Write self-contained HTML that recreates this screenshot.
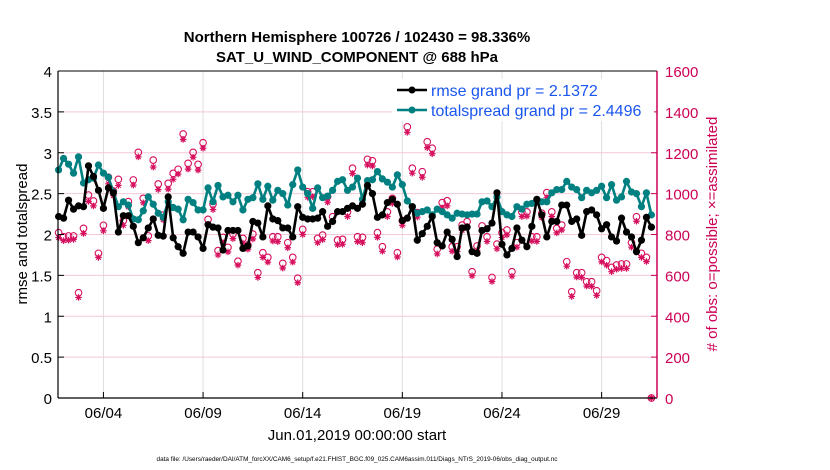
<!DOCTYPE html>
<html><head><meta charset="utf-8"><style>
html,body{margin:0;padding:0;background:#fff;}
svg{display:block;font-family:"Liberation Sans",Arial,sans-serif;}
</style></head><body>
<svg id="chart" width="830" height="470" viewBox="0 0 830 470" xmlns="http://www.w3.org/2000/svg">
<rect x="0" y="0" width="830" height="470" fill="#fff"/>
<text x="357" y="42" text-anchor="middle" font-size="15" font-weight="bold">Northern Hemisphere 100726 / 102430 = 98.336%</text>
<text x="357" y="62" text-anchor="middle" font-size="15" font-weight="bold">SAT_U_WIND_COMPONENT @ 688 hPa</text>
<g id="grid"></g>
<g id="obs"></g>
<g id="lines"></g>
<g id="axes"></g>
<text transform="translate(27,234) rotate(-90)" text-anchor="middle" font-size="15">rmse and totalspread</text>
<text transform="translate(717,234) rotate(-90)" text-anchor="middle" font-size="15" fill="#cc0055"># of obs: o=possible; ×=assimilated</text>
<text x="357" y="440" text-anchor="middle" font-size="15">Jun.01,2019 00:00:00 start</text>
<text x="357" y="461" text-anchor="middle" font-size="6.4">data file: /Users/raeder/DAI/ATM_forcXX/CAM6_setup/f.e21.FHIST_BGC.f09_025.CAM6assim.011/Diags_NTrS_2019-06/obs_diag_output.nc</text>
<g id="legend">
<rect x="392" y="79" width="262" height="42" fill="#fff"/>
<line x1="397" y1="90" x2="427" y2="90" stroke="#000" stroke-width="2.5"/>
<circle cx="412" cy="90" r="3.5" fill="#000"/>
<text x="431" y="96" font-size="16" fill="#1a55f0">rmse grand pr = 2.1372</text>
<line x1="397" y1="110" x2="427" y2="110" stroke="#008080" stroke-width="2.5"/>
<circle cx="412" cy="110" r="3.5" fill="#008080"/>
<text x="431" y="116" font-size="16" fill="#1a55f0">totalspread grand pr = 2.4496</text>
</g>
</svg>
<script>
const rmse = [2.22,2.2,2.42,2.31,2.35,2.34,2.84,2.71,2.54,2.32,2.57,2.51,2.03,2.23,2.23,2.1,1.9,1.96,2.08,2.19,1.99,1.98,2.46,1.96,1.85,1.77,2.03,2.03,1.97,1.83,2.12,2.09,2.08,1.81,2.05,2.05,2.05,1.83,1.86,2.16,2.14,1.97,
2.35,2.19,2.17,2.08,2.08,1.97,2.34,2.21,2.19,2.19,2.2,2.28,2.1,2.16,2.28,2.28,2.32,2.35,2.32,2.37,2.6,2.5,2.21,2.24,2.39,2.43,2.37,2.17,2.2,2.34,1.93,2.01,2.1,2.22,1.9,1.86,2.03,1.94,
1.73,2.08,2.09,1.79,1.77,2.05,2.07,2.14,2.51,1.88,1.75,1.83,2.08,1.93,1.85,2.1,2.43,2.24,1.97,2.16,2.16,2.36,2.36,2.16,2.19,1.99,2.28,2.3,2.24,2.07,2.12,1.97,1.92,2.2,2.03,1.97,1.79,1.93,2.21,2.09];
const spread = [2.79,2.93,2.86,2.75,2.95,2.63,2.67,2.69,2.85,2.75,2.7,2.52,2.34,2.4,2.36,2.19,2.18,2.29,2.46,2.37,2.26,2.21,2.4,2.33,2.31,2.18,2.43,2.39,2.3,2.3,2.57,2.4,2.6,2.46,2.48,2.4,2.48,2.3,2.43,2.45,2.62,2.43,
2.59,2.42,2.54,2.5,2.36,2.61,2.79,2.58,2.5,2.32,2.57,2.45,2.47,2.54,2.65,2.67,2.54,2.58,2.69,2.43,2.66,2.67,2.77,2.68,2.64,2.58,2.73,2.61,2.41,2.34,2.26,2.28,2.3,2.24,2.31,2.28,2.24,2.2,
2.26,2.25,2.24,2.25,2.25,2.4,2.41,2.34,2.46,2.28,2.24,2.22,2.34,2.31,2.37,2.38,2.41,2.4,2.4,2.51,2.55,2.55,2.65,2.58,2.55,2.45,2.54,2.51,2.54,2.59,2.45,2.61,2.42,2.46,2.65,2.52,2.5,2.34,2.51,2.24];
const obsPossible = [809,789,793,793,515,830,993,964,708,845,1080,1013,1070,868,961,1067,1202,977,793,1164,1047,895,1050,1099,1119,1292,1148,1202,1143,1249,874,949,721,786,737,802,669,781,749,802,613,
711,688,789,789,659,760,688,586,825,1009,1009,781,797,985,887,773,776,911,1124,789,786,1168,1161,809,740,911,977,711,868,1327,1124,907,1107,1254,1222,728,956,965,
740,740,846,863,618,744,842,789,590,753,809,822,618,760,911,911,789,789,904,1005,911,830,846,667,520,613,613,569,569,525,688,672,639,651,656,656,760,887,708,688,0];
const obsAssim = [785,770,772,776,492,805,962,940,688,818,1048,990,1040,845,935,1042,1180,955,770,1130,1020,872,1022,1070,1096,1265,1120,1178,1115,1222,850,922,700,760,715,780,650,758,728,778,590,
688,665,768,765,636,735,665,564,800,982,985,760,775,958,862,750,752,888,1098,765,760,1140,1135,786,718,888,952,690,845,1300,1100,885,1080,1225,1195,705,930,940,
718,716,820,840,598,722,818,766,570,730,785,798,596,738,888,890,768,766,882,980,888,808,822,645,497,592,590,548,546,502,666,650,618,630,634,634,738,865,688,668,0];
const tickDates = ["06/04","06/09","06/14","06/19","06/24","06/29"];
const tickDays = [3,8,13,18,23,28];
const leftTicks = [0,0.5,1,1.5,2,2.5,3,3.5,4];
const rightTicks = [0,200,400,600,800,1000,1200,1400,1600];

const NS="http://www.w3.org/2000/svg";
const X0=58,X1=657,Y0=398,Y1=71;
const dayStart=0.72, dayEnd=30.78;
function xDay(d){return X0+(d-dayStart)/(dayEnd-dayStart)*(X1-X0);}
function xIdx(i){return xDay(0.75+i*0.25);}
function yL(v){return Y0-v/4*(Y0-Y1);}
function yR(v){return Y0-v/1600*(Y0-Y1);}
function mk(tag,attrs,parent){const e=document.createElementNS(NS,tag);for(const k in attrs)e.setAttribute(k,attrs[k]);parent.appendChild(e);return e;}
const grid=document.getElementById('grid'),axes=document.getElementById('axes'),lines=document.getElementById('lines'),obs=document.getElementById('obs');

tickDays.forEach((d,k)=>{
  const x=xDay(d);
  const g=mk('line',{x1:x,y1:Y0,x2:x,y2:Y1,stroke:'#dedede','stroke-width':1},grid);
  
  
  const t=mk('line',{x1:x,y1:Y0,x2:x,y2:Y0-6,stroke:'#000','stroke-width':1},axes);
  
  
  const lb=mk('text',{x:x,y:Y0+20,'text-anchor':'middle','font-size':15},axes);
  lb.textContent=tickDates[k];
  
  
});
rightTicks.forEach(v=>{
  const y=yR(v);
  if(v>0&&v<1600){
    const g=mk('line',{x1:X0,y1:y,x2:X1,y2:y,stroke:'#f3c9d8','stroke-width':1},grid);
    
    
  }
  const t=mk('line',{x1:X1,y1:y,x2:X1-6,y2:y,stroke:'#cc0055','stroke-width':1},axes);
  
  
  const lb=mk('text',{x:X1+8,y:y+6,'font-size':15,fill:'#cc0055'},axes);
  lb.textContent=v;
  
  
});
leftTicks.forEach(v=>{
  const y=yL(v);
  const t=mk('line',{x1:X0,y1:y,x2:X0+6,y2:y,stroke:'#000','stroke-width':1},axes);
  
  
  const lb=mk('text',{x:X0-6,y:y+6,'text-anchor':'end','font-size':15},axes);
  lb.textContent=v;
  
  
});
const b1=mk('line',{x1:X0,y1:Y1,x2:X0,y2:Y0,stroke:'#000','stroke-width':1.2},axes);


const b2=mk('line',{x1:X0,y1:Y0,x2:X1,y2:Y0,stroke:'#000','stroke-width':1.2},axes);


const b3=mk('line',{x1:X0,y1:Y1,x2:X1,y2:Y1,stroke:'#000','stroke-width':1},axes);


const b4=mk('line',{x1:X1,y1:Y1,x2:X1,y2:Y0,stroke:'#cc0055','stroke-width':1.5},axes);



obsPossible.forEach((v,i)=>{
  const x=xIdx(i);
  const c=mk('circle',{cx:x,cy:yR(v),r:3.3,fill:'none',stroke:'#d6105e','stroke-width':1.1},obs);
  
  
});
obsAssim.forEach((v,i)=>{
  const x=xIdx(i),y=yR(v),s=3.3;
  const p=mk('path',{d:`M${x-s},${y}H${x+s}M${x},${y-s}V${y+s}M${x-s*0.7},${y-s*0.7}L${x+s*0.7},${y+s*0.7}M${x-s*0.7},${y+s*0.7}L${x+s*0.7},${y-s*0.7}`,stroke:'#d6105e','stroke-width':1.2,fill:'none'},obs);
  
  
});

function series(vals,color,name){
  const pts=vals.map((v,i)=>xIdx(i).toFixed(1)+','+yL(v).toFixed(1)).join(' ');
  const pl=mk('polyline',{points:pts,fill:'none',stroke:color,'stroke-width':2.6,'stroke-linejoin':'round'},lines);
  
  
  vals.forEach((v,i)=>{
    const c=mk('circle',{cx:xIdx(i),cy:yL(v),r:3.6,fill:color},lines);
    
    
  });
}
series(spread,'#008080','totalspread');
series(rmse,'#000000','rmse');
</script>
</body></html>
